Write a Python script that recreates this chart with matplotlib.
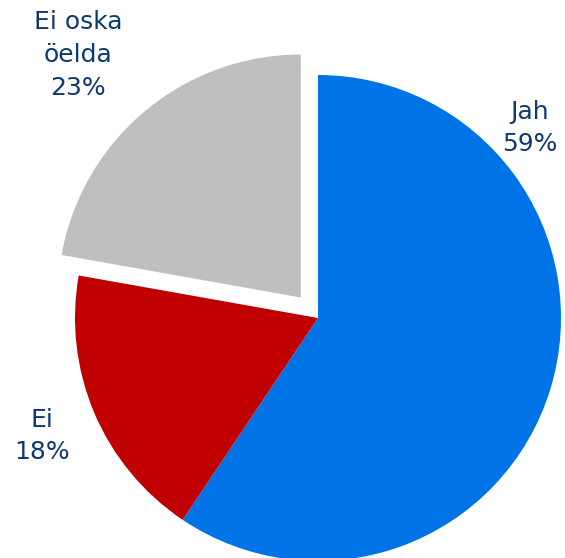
import matplotlib
matplotlib.use('Agg')
import matplotlib.pyplot as plt

# andmed (sektorite suurused loetud pildilt, sildid nagu originaalis)
labels = ['Jah', 'Ei', 'Ei oska\nöelda']
values = [59.4, 18.4, 22.2]
pct_labels = ['59%', '18%', '23%']
colors = ['#0073E6', '#C00000', '#BFBFBF']
explode = [0, 0, 0.11]

txt_color = '#0E3A6E'

fig = plt.figure(figsize=(5.65, 5.58), dpi=100)
ax = fig.add_axes([0, 0, 1, 1])

ax.pie(values, colors=colors, explode=explode, startangle=90,
       counterclock=False, radius=1.0, wedgeprops=dict(linewidth=0))

# telje piirid nii, et keskpunkt oleks (318, 318) px ja raadius 243 px
r = 243.0
ax.set_xlim(-318 / r, (565 - 318) / r)
ax.set_ylim(-(558 - 318) / r, 318 / r)
ax.set_aspect('auto')
ax.axis('off')

# sildid
pos = [(530, 128), (42, 436), (78, 55)]
for lab, p, (px, py) in zip(labels, pct_labels, pos):
    ax.text((px - 318) / r, (318 - py) / r, f'{lab}\n{p}', ha='center', va='center',
            fontsize=18, color=txt_color, linespacing=1.45)

fig.savefig('out.png', dpi=100)
